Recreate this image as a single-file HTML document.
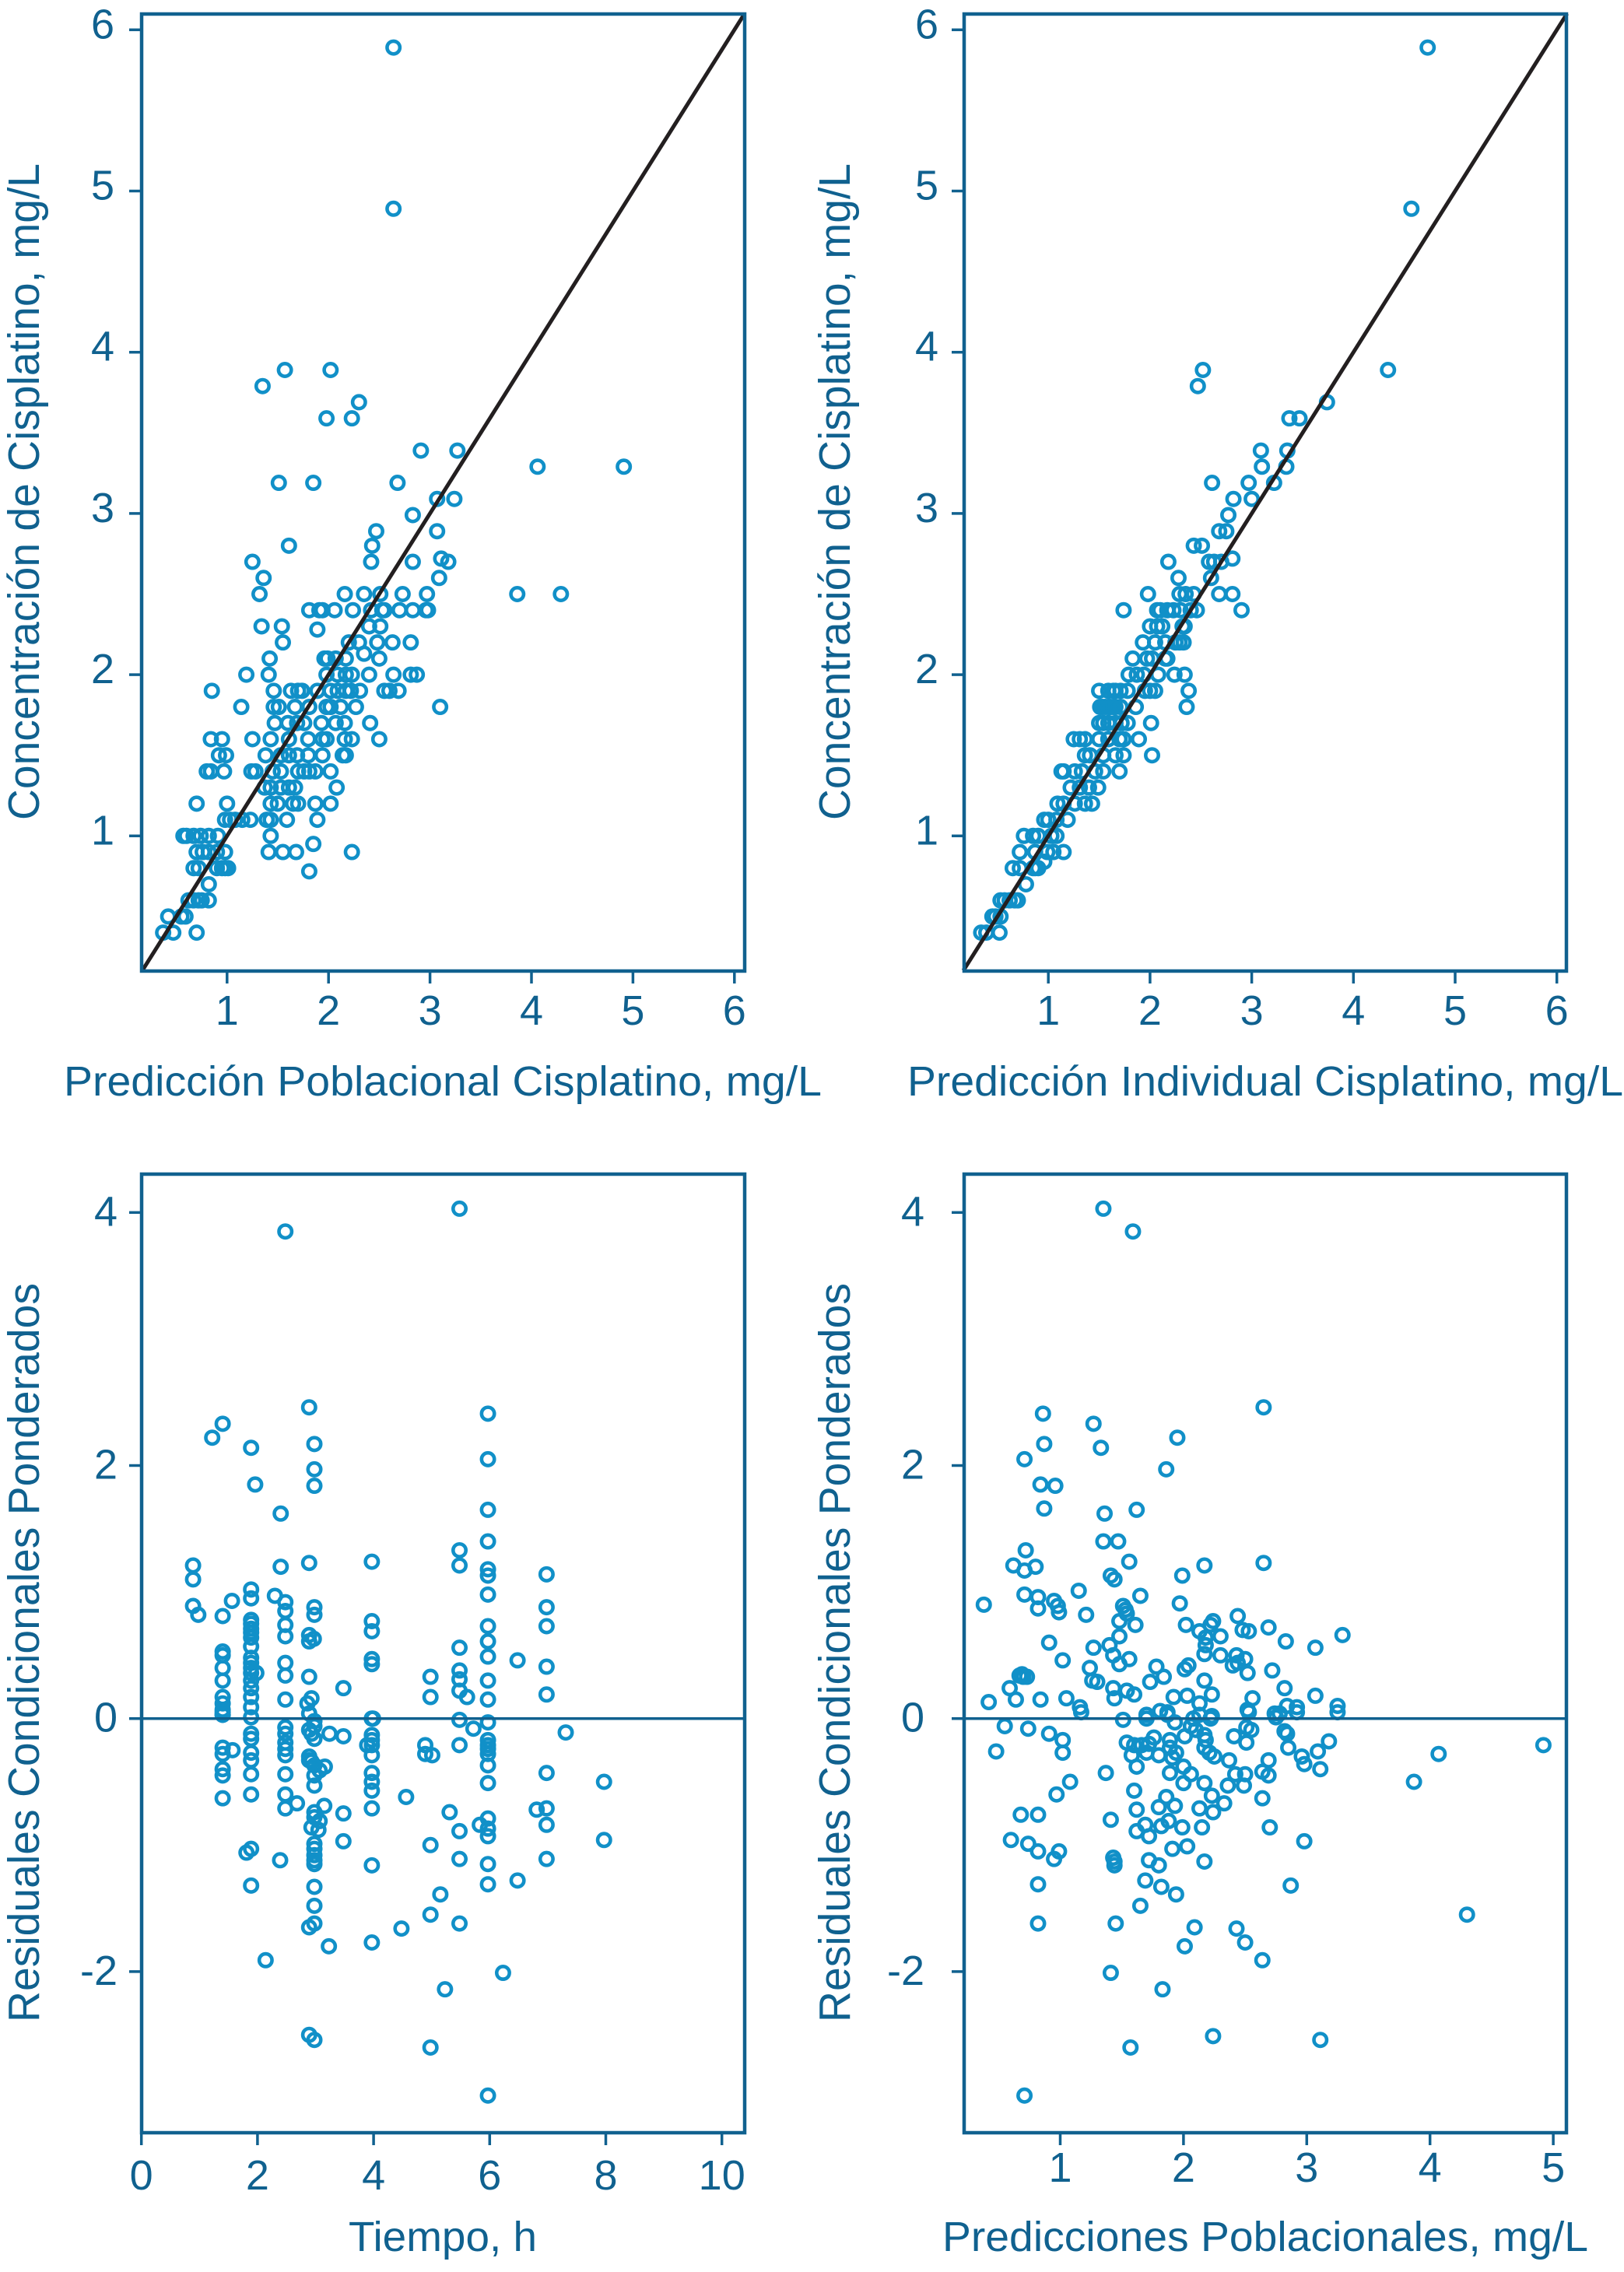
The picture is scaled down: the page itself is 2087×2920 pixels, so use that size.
<!DOCTYPE html>
<html lang="es">
<head>
<meta charset="utf-8">
<title>Diagnósticos del modelo de cisplatino</title>
<style>
html,body{margin:0;padding:0;background:#fff;}
svg{display:block;}
text{font-family:"Liberation Sans",sans-serif;fill:#10618f;}
.tick-label{font-size:54px;}
.axis-title{font-size:54px;}
.axis-title-y{font-size:57px;}
</style>
</head>
<body>
<svg id="chart" xmlns="http://www.w3.org/2000/svg" width="2087" height="2920" viewBox="0 0 2087 2920">
<rect x="0" y="0" width="2087" height="2920" fill="#ffffff"/>
<text class="axis-title-y" x="50" y="1054" transform="rotate(-90 50 1054)" textLength="844" lengthAdjust="spacingAndGlyphs">Concentración de Cisplatino, mg/L</text>
<text class="axis-title" x="82" y="1408" textLength="974" lengthAdjust="spacingAndGlyphs">Predicción Poblacional Cisplatino, mg/L</text>
<text class="axis-title-y" x="1092" y="1054" transform="rotate(-90 1092 1054)" textLength="844" lengthAdjust="spacingAndGlyphs">Concentración de Cisplatino, mg/L</text>
<text class="axis-title" x="1166" y="1408" textLength="920" lengthAdjust="spacingAndGlyphs">Predicción Individual Cisplatino, mg/L</text>
<text class="axis-title-y" x="50" y="2599" transform="rotate(-90 50 2599)" textLength="950" lengthAdjust="spacingAndGlyphs">Residuales Condicionales Ponderados</text>
<text class="axis-title" x="448" y="2893" textLength="242" lengthAdjust="spacingAndGlyphs">Tiempo, h</text>
<text class="axis-title-y" x="1092" y="2599" transform="rotate(-90 1092 2599)" textLength="950" lengthAdjust="spacingAndGlyphs">Residuales Condicionales Ponderados</text>
<text class="axis-title" x="1211" y="2893" textLength="830" lengthAdjust="spacingAndGlyphs">Predicciones Poblacionales, mg/L</text>
</svg>
<script>
const concTicks = [1,2,3,4,5,6];
const predTicks = [1,2,3,4,5,6];
const residTicks = [-2,0,2,4];
const timeTicks = [0,2,4,6,8,10];
const popPredTicks = [1,2,3,4,5];
const identityLine = [0.165,6.1];
const zeroLine = [0];

const panelAPred = [
.37,.47,.70,
.42,.55,.59,
.62,.67,.72,.75,.82,
.82,
1.81,
.67,.72,.90,.95,.98,1.01,
.70,.76,.82,.90,.98,1.41,1.55,1.68,2.23,
1.85,
.57,.60,.67,.74,.82,.91,1.43,
.98,1.03,1.08,1.15,1.23,1.39,1.43,1.59,1.89,
.70,1.0,1.43,1.50,1.65,1.70,1.87,2.02,
1.37,1.43,1.53,1.61,1.67,2.08,
.80,.84,.97,1.24,1.28,1.45,1.53,1.70,1.76,1.81,1.87,2.02,
.92,.99,1.38,1.53,1.61,1.69,1.80,1.94,2.14,2.17,
.84,.95,1.25,1.43,1.61,1.80,1.94,1.98,2.16,2.23,2.50,
1.47,1.60,1.69,1.76,1.93,2.07,2.16,2.41,
1.14,1.46,1.51,1.67,1.81,1.98,2.02,2.12,2.27,3.10,
.85,1.46,1.63,1.70,1.74,1.89,2.02,2.09,2.17,2.22,2.31,2.55,2.60,2.69,
1.19,1.41,1.98,2.09,2.17,2.23,2.40,2.64,2.81,2.87,
1.42,1.96,1.99,2.07,2.17,2.50,2.35,
1.55,2.20,2.30,2.48,2.63,2.81,
1.34,1.54,1.89,2.40,2.51,
1.81,1.91,1.94,2.06,2.24,2.42,2.53,2.55,2.70,2.83,2.96,2.98,
1.32,2.16,2.35,2.51,2.73,2.97,3.86,4.29,
1.36,3.09,
1.25,2.42,2.83,3.11,3.18,
1.61,2.43,
2.47,3.07,
2.83,
3.07,3.24,
1.51,1.85,2.68,
4.06,4.91,
2.91,3.27,
1.98,2.23,
2.30,
1.35,
1.57,2.02,
2.64,
2.64
];
const panelAObs = [
.4,.4,.4,
.5,.5,.5,
.6,.6,.6,.6,.6,
.7,
.78,
.8,.8,.8,.8,.8,.8,
.9,.9,.9,.9,.9,.9,.9,.9,.9,
.95,
1,1,1,1,1,1,1,
1.1,1.1,1.1,1.1,1.1,1.1,1.1,1.1,1.1,
1.2,1.2,1.2,1.2,1.2,1.2,1.2,1.2,
1.3,1.3,1.3,1.3,1.3,1.3,
1.4,1.4,1.4,1.4,1.4,1.4,1.4,1.4,1.4,1.4,1.4,1.4,
1.5,1.5,1.5,1.5,1.5,1.5,1.5,1.5,1.5,1.5,
1.6,1.6,1.6,1.6,1.6,1.6,1.6,1.6,1.6,1.6,1.6,
1.7,1.7,1.7,1.7,1.7,1.7,1.7,1.7,
1.8,1.8,1.8,1.8,1.8,1.8,1.8,1.8,1.8,1.8,
1.9,1.9,1.9,1.9,1.9,1.9,1.9,1.9,1.9,1.9,1.9,1.9,1.9,1.9,
2,2,2,2,2,2,2,2,2,2,
2.1,2.1,2.1,2.1,2.1,2.1,2.13,
2.2,2.2,2.2,2.2,2.2,2.2,
2.3,2.3,2.28,2.3,2.3,
2.4,2.4,2.4,2.4,2.4,2.4,2.4,2.4,2.4,2.4,2.4,2.4,
2.5,2.5,2.5,2.5,2.5,2.5,2.5,2.5,
2.6,2.6,
2.7,2.7,2.7,2.72,2.7,
2.8,2.8,
2.89,2.89,
2.99,
3.09,3.09,
3.19,3.19,3.19,
3.29,3.29,
3.39,3.39,
3.59,3.59,
3.69,
3.79,
3.89,3.89,
4.89,
5.89
];

const panelBPred = [
.34,.39,.52,
.45,.48,.53,
.53,.57,.62,.67,.70,
.78,
.65,.72,.85,.87,.90,.96,
.72,.87,.99,1.05,1.15,
.76,.85,.90,1.03,1.08,
.96,1.0,1.08,1.19,
1.09,1.15,1.26,1.36,1.43,
1.22,1.31,1.40,1.49,
1.13,1.15,1.26,1.33,1.46,1.54,1.70,
1.36,1.41,1.54,1.66,1.74,2.02,
1.25,1.31,1.36,1.50,1.59,1.70,1.74,1.89,
1.50,1.54,1.59,1.66,1.72,1.78,2.01,
1.51,1.53,1.56,1.59,1.61,1.64,1.66,1.71,1.86,2.36,
1.50,1.59,1.64,1.66,1.71,1.78,1.95,2.0,2.05,2.38,
1.79,1.87,1.94,2.08,2.24,2.34,
1.83,1.97,2.02,2.15,2.17,
1.93,2.05,2.15,2.25,2.29,2.33,
2.0,2.07,2.12,2.32,2.34,
1.74,2.07,2.10,2.17,2.23,2.30,2.40,2.46,2.90,
1.98,2.29,2.35,2.43,2.68,2.81,
2.28,2.60,
2.18,2.58,2.63,2.70,2.81,
2.43,2.51,
2.68,2.75,
2.77,
2.82,3.0,
2.61,2.97,3.22,
3.10,3.34,
3.09,3.35,
3.37,3.47,
3.74,
2.47,
2.52,4.34,
4.57,
4.73
];
const panelBObs = [
.4,.4,.4,
.5,.5,.5,
.6,.6,.6,.6,.6,
.7,
.8,.8,.8,.8,.8,.84,
.9,.9,.9,.9,.9,
1,1,1,1,1,
1.1,1.1,1.1,1.1,
1.2,1.2,1.2,1.2,1.2,
1.3,1.3,1.3,1.3,
1.4,1.4,1.4,1.4,1.4,1.4,1.4,
1.5,1.5,1.5,1.5,1.5,1.5,
1.6,1.6,1.6,1.6,1.6,1.6,1.6,1.6,
1.7,1.7,1.7,1.7,1.7,1.7,1.7,
1.8,1.8,1.8,1.8,1.8,1.8,1.8,1.8,1.8,1.8,
1.9,1.9,1.9,1.9,1.9,1.9,1.9,1.9,1.9,1.9,
2,2,2,2,2,2,
2.1,2.1,2.1,2.1,2.1,
2.2,2.2,2.2,2.2,2.2,2.2,
2.3,2.3,2.3,2.3,2.3,
2.4,2.4,2.4,2.4,2.4,2.4,2.4,2.4,2.4,
2.5,2.5,2.5,2.5,2.5,2.5,
2.6,2.6,
2.7,2.7,2.7,2.7,2.72,
2.8,2.8,
2.89,2.89,
2.99,
3.09,3.09,
3.19,3.19,3.19,
3.29,3.29,
3.39,3.39,
3.59,3.59,
3.69,
3.79,
3.89,3.89,
4.89,
5.89
];

const panelCTime = [
5.48,2.48,2.89,5.97,1.40,1.22,1.89,2.98,5.97,2.98,2.98,1.96,5.97,2.40,5.97,5.48,5.48,
.89,.89,2.40,2.89,3.97,5.97,5.97,6.98,5.97,.89,.98,1.56,1.40,1.89,1.89,2.30,2.48,2.48,
2.98,2.98,2.48,2.48,3.97,3.97,6.98,6.98,5.97,5.97,5.97,2.89,2.89,2.97,5.48,6.48,6.98,
3.97,3.97,2.48,2.48,5.48,5.48,5.48,4.98,4.98,5.97,5.97,2.89,3.48,5.61,6.98,2.48,2.93,2.86,
1.40,1.40,1.40,1.40,1.40,1.40,1.40,1.40,1.40,
1.89,1.89,1.89,1.89,1.89,1.89,1.89,1.89,1.89,1.89,1.89,1.89,1.89,1.89,1.98,3.97,
1.40,1.89,3.99,2.89,2.98,5.48,5.97,5.72,7.31,
2.48,2.48,2.48,2.48,2.48,2.89,2.98,2.93,2.98,3.24,3.48,3.97,3.97,3.97,3.89,3.97,
1.89,1.89,1.89,1.89,1.89,1.89,1.40,1.40,1.57,1.40,1.40,1.40,
4.89,4.89,5.01,5.48,5.97,5.97,5.97,5.97,5.97,5.97,6.98,7.97,
2.48,2.48,2.48,2.68,2.89,2.89,2.93,2.98,2.98,2.98,3.16,3.07,
3.97,3.97,3.97,3.97,4.56,3.15,2.98,2.98,3.07,2.93,3.05,3.48,3.48,5.31,5.83,5.97,5.97,5.97,5.48,
6.81,6.98,6.98,7.97,4.98,1.89,1.81,2.39,2.98,2.98,2.98,2.98,2.98,3.97,5.48,5.97,6.98,
6.48,5.97,1.89,2.98,5.15,2.98,4.98,5.48,4.48,2.98,2.89,3.97,3.23,2.14,6.23,5.23,2.89,2.98,4.98,5.97
];
const panelCResid = [
4.03,3.85,2.46,2.41,2.33,2.22,2.14,2.17,2.05,1.97,1.84,1.85,1.65,1.62,1.40,1.33,1.21,
1.21,1.10,1.20,1.23,1.24,1.18,1.13,1.14,.98,.89,.82,.93,.81,1.02,.95,.97,.92,.85,
.88,.82,.74,.65,.77,.69,.88,.73,.73,.61,.49,.66,.61,.63,.56,.46,.41,
.47,.43,.44,.34,.38,.31,.22,.33,.17,.30,.15,.33,.24,.17,.19,.15,.16,.12,
.53,.50,.40,.30,.17,.12,.07,.05,.03,
.78,.75,.71,.68,.64,.57,.48,.44,.40,.36,.30,.24,.17,.09,.36,0,
.03,.01,0,.04,-.02,-.01,-.03,-.08,-.11,
-.07,-.12,-.19,-.24,-.29,-.09,-.06,-.12,-.16,-.12,-.14,-.13,-.17,-.21,-.21,-.29,
-.12,-.16,-.27,-.33,-.44,-.60,-.23,-.28,-.25,-.40,-.45,-.63,
-.21,-.28,-.29,-.21,-.17,-.21,-.24,-.28,-.37,-.51,-.43,-.50,
-.44,-.60,-.71,-.67,-.30,-.33,-.34,-.37,-.45,-.53,-.38,-.41,
-.43,-.50,-.57,-.71,-.62,-.69,-.74,-.78,-.81,-.86,-.88,-.75,-.97,-.74,-.84,-.79,-.87,-.93,-.89,
-.72,-.71,-.84,-.96,-1.0,-1.03,-1.06,-1.12,-.99,-1.03,-1.08,-1.12,-1.15,-1.16,-1.11,-1.15,-1.11,
-1.28,-1.31,-1.32,-1.33,-1.39,-1.48,-1.55,-1.62,-1.66,-1.62,-1.65,-1.77,-1.80,-1.91,-2.01,-2.14,-2.50,-2.54,-2.60,-2.98
];

const panelDPred = [
1.35,1.59,2.65,.86,1.27,1.95,.87,1.33,.71,1.86,.84,.96,.87,1.62,1.36,1.35,1.47,.72,.62,.71,.80,1.56,2.17,2.65,1.41,1.44,1.99,
.38,.71,.82,.82,.95,.98,.99,1.15,1.21,1.65,1.51,1.53,1.54,1.97,1.48,1.61,2.02,2.24,2.22,2.44,2.69,2.48,2.53,2.13,2.30,2.18,2.18,2.17,
1.48,2.83,3.07,3.29,.91,1.27,1.40,1.43,1.48,1.56,1.02,2.30,2.43,2.40,2.44,2.50,2.52,1.24,1.78,2.04,2.01,2.72,.67,.70,.73,.69,
1.84,1.73,2.17,1.26,1.30,.59,.64,.42,.84,1.05,1.43,1.44,1.54,1.60,1.92,2.03,2.23,2.13,2.56,2.82,3.07,3.25,2.84,2.92,2.52,1.16,1.70,1.81,1.87,2.23,2.74,2.78,
1.17,1.51,1.70,1.87,1.93,2.08,2.22,2.13,2.53,2.75,2.92,3.25,.55,.74,.91,1.02,1.02,.48,2.06,2.10,2.17,2.18,2.01,1.54,1.60,1.66,1.72,1.76,1.58,1.70,1.80,1.62,
1.89,1.89,1.94,1.91,2.0,1.89,2.06,2.0,2.17,2.21,2.25,2.37,2.41,2.51,2.55,2.51,2.82,2.84,2.85,2.96,2.98,3.09,3.18,3.11,2.69,2.64,2.69,2.42,2.50,2.49,2.36,2.17,2.23,2.33,2.24,2.13,2.64,
1.37,1.60,1.08,.97,.68,.82,1.62,1.80,1.86,1.93,1.41,1.69,1.62,1.72,1.82,1.88,1.99,2.15,2.70,.60,.74,.82,.99,.95,2.98,1.91,2.03,1.43,1.44,1.44,1.72,1.80,2.17,3.87,4.07,4.92,
.82,1.69,1.82,1.94,2.87,1.65,4.30,.82,1.45,2.09,2.43,2.50,2.01,2.64,1.41,1.83,2.24,3.11,1.57,.71
];
const panelDResid = [
4.03,3.85,2.46,2.41,2.33,2.22,2.17,2.14,2.05,1.97,1.85,1.84,1.66,1.65,1.62,1.40,1.40,1.33,1.21,1.17,1.20,1.24,1.21,1.23,1.13,1.10,1.13,
.90,.98,.96,.87,.93,.89,.84,1.01,.82,.97,.89,.86,.83,.91,.77,.74,.74,.77,.74,.81,.72,.70,.69,.69,.65,.64,.58,.51,
.65,.61,.56,.66,.60,.56,.58,.50,.43,.47,.46,.50,.50,.42,.44,.47,.36,.40,.41,.42,.39,.38,.34,.33,.33,.35,
.33,.29,.30,.30,.29,.24,.15,.13,.15,.16,.24,.16,.22,.19,.17,.18,.19,.12,.16,.24,.18,.10,.10,.09,.07,.09,.03,.06,.05,.02,.04,.04,
.05,-.01,0,.03,-.03,0,0,.03,.05,.01,.05,.05,-.06,-.08,-.12,-.17,-.27,-.26,-.06,-.09,-.13,-.17,-.14,-.19,-.21,-.21,-.20,-.15,-.29,-.27,-.29,-.38,
-.17,-.23,-.27,-.31,-.38,-.43,-.44,-.51,-.23,-.27,-.30,-.33,-.14,-.07,-.09,-.19,-.10,-.12,-.23,-.30,-.36,-.26,-.18,-.40,-.33,-.42,-.45,-.44,-.44,-.53,-.53,-.51,-.61,-.67,-.74,-.71,-.63,
-.43,-.57,-.50,-.60,-.76,-.76,-.72,-.70,-.62,-.69,-.80,-.84,-.89,-.93,-.85,-.81,-.86,-.86,-.86,-.96,-.99,-1.05,-1.05,-1.11,-.97,-1.03,-1.01,-1.10,-1.13,-1.16,-1.12,-1.16,-1.13,-.50,-.28,-.21,
-1.31,-1.28,-1.33,-1.39,-1.32,-1.48,-1.55,-1.62,-1.62,-1.65,-1.66,-1.77,-1.80,-1.91,-2.01,-2.14,-2.51,-2.54,-2.60,-2.98
];

const NS = 'http://www.w3.org/2000/svg';
const svgRoot = document.getElementById('chart');
const INK = '#10618f';
const MARK = '#1190c8';

function shape(parent, tag, attrs) {
  const node = document.createElementNS(NS, tag);
  for (const key in attrs) node.setAttribute(key, attrs[key]);
  parent.appendChild(node);
  return node;
}

function linearScale(refValue, refPixel, pixelsPerUnit, direction) {
  return function (v) { return refPixel + direction * (v - refValue) * pixelsPerUnit; };
}

function drawPanel(p) {
  const group = shape(svgRoot, 'g', {});
  
  

  p.xTicks.forEach(function (t) {
    const tick = shape(group, 'line', {x1: p.x(t), x2: p.x(t), y1: p.bottom, y2: p.bottom + 16, stroke: INK, 'stroke-width': 3.5});
    
    
    const label = shape(group, 'text', {x: p.x(t), y: p.xLabelY, 'text-anchor': 'middle', 'class': 'tick-label'});
    label.textContent = String(t);
    
    
  });

  p.yTicks.forEach(function (t) {
    const tick = shape(group, 'line', {x1: p.left - 16, x2: p.left, y1: p.y(t), y2: p.y(t), stroke: INK, 'stroke-width': 3.5});
    
    
    const label = shape(group, 'text', {x: p.yLabelX, y: p.y(t) + p.yLabelDy, 'text-anchor': 'end', 'class': 'tick-label'});
    label.textContent = String(t);
    
    
  });

  const count = Math.min(p.xs.length, p.ys.length);
  for (let i = 0; i < count; i++) {
    const dot = shape(group, 'ellipse', {cx: p.x(p.xs[i]), cy: p.y(p.ys[i]), rx: 8.2, ry: 8.2, fill: 'none', stroke: MARK, 'stroke-width': 4.6});
    
    
  }

  if (p.identity) {
    const ref = shape(group, 'line', {x1: p.x(p.identity[0]), y1: p.y(p.identity[0]), x2: p.x(p.identity[1]), y2: p.y(p.identity[1]), stroke: '#231f20', 'stroke-width': 5});
    
    
  }
  if (p.zero) {
    const zero = shape(group, 'line', {x1: p.left - 16, y1: p.y(p.zero[0]), x2: p.right, y2: p.y(p.zero[0]), stroke: INK, 'stroke-width': 3.5});
    
    
  }

  const frame = shape(group, 'rect', {x: p.left, y: p.top, width: p.right - p.left, height: p.bottom - p.top, fill: 'none', stroke: INK, 'stroke-width': 4.5});
  
  
}

drawPanel({
  id: 'panel-a', left: 182, right: 957, top: 18, bottom: 1248,
  x: linearScale(1, 291.8, 130.4, 1), y: linearScale(1, 1074.3, 207.2, -1),
  xs: panelAPred, ys: panelAObs, xTicks: predTicks, yTicks: concTicks,
  xLabelY: 1317, yLabelX: 147, yLabelDy: 11, identity: identityLine
});
drawPanel({
  id: 'panel-b', left: 1239, right: 2013, top: 18, bottom: 1248,
  x: linearScale(1, 1347.2, 130.7, 1), y: linearScale(1, 1074.3, 207.2, -1),
  xs: panelBPred, ys: panelBObs, xTicks: predTicks, yTicks: concTicks,
  xLabelY: 1317, yLabelX: 1206, yLabelDy: 11, identity: identityLine
});
drawPanel({
  id: 'panel-c', left: 182, right: 957, top: 1509, bottom: 2741,
  x: linearScale(0, 181.7, 74.6, 1), y: linearScale(0, 2208.7, 162.6, -1),
  xs: panelCTime, ys: panelCResid, xTicks: timeTicks, yTicks: residTicks,
  xLabelY: 2814, yLabelX: 151, yLabelDy: 17, zero: zeroLine
});
drawPanel({
  id: 'panel-d', left: 1239, right: 2013, top: 1509, bottom: 2741,
  x: linearScale(1, 1362.5, 158.4, 1), y: linearScale(0, 2208.7, 162.6, -1),
  xs: panelDPred, ys: panelDResid, xTicks: popPredTicks, yTicks: residTicks,
  xLabelY: 2804, yLabelX: 1188, yLabelDy: 17, zero: zeroLine
});
</script>
</body>
</html>
